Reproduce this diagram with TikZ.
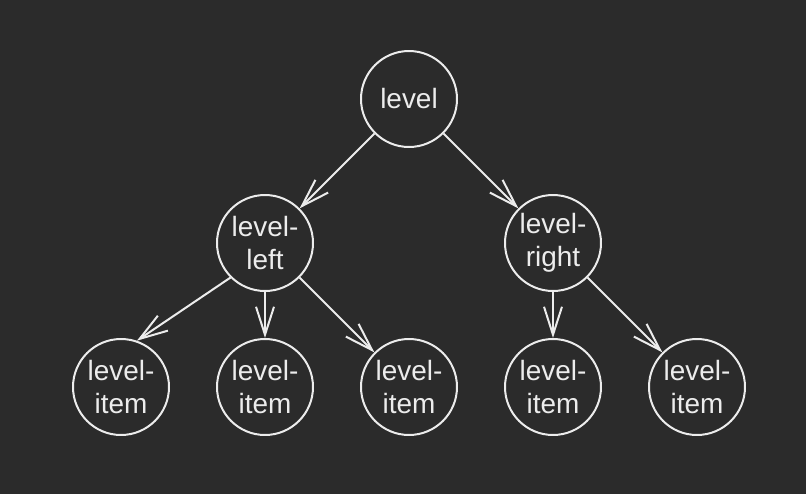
\documentclass[tikz,border=0pt]{standalone}
\usepackage{fontspec}
\setmainfont{Liberation Sans}
\usepackage{tikz}
\usetikzlibrary{shapes.geometric, arrows.meta, calc}
\definecolor{bg}{HTML}{2B2B2B}
\definecolor{fg}{HTML}{ECECEC}
\tikzstyle{lvl} = [circle, draw=fg, line width=0.04cm, minimum size=1.92cm,
inner sep=0pt, text=fg, align=center, font=\fontsize{15.9pt}{18.8pt}\selectfont]
\tikzstyle{arrow} = [line width=0.04cm, draw=fg, ->]
\tikzset{>={Straight Barb[length=0.56cm, width=0.36cm]}}

\begin{document}
\begin{tikzpicture}[x=0.02cm, y=-0.02cm]
            \fill[bg] (0,0) rectangle (806,494);
            \useasboundingbox (0,0) rectangle (806,494);
            % tree
            \node[lvl] (level) at (409,99) {level};
            \node[lvl] (lleft) at (265,243) {level-\\left};
            \node[lvl] (lright) at (553,243) {level-\\right};
            \node[lvl] (item1) at (121,387) {level-\\item};
            \node[lvl] (item2) at (265,387) {level-\\item};
            \node[lvl] (item3) at (409,387) {level-\\item};
            \node[lvl] (item4) at (553,387) {level-\\item};
            \node[lvl] (item5) at (697,387) {level-\\item};
            % edges
            \draw [arrow] (level) -- (lleft);
            \draw [arrow] (level) -- (lright);
            \draw [arrow] (lleft.-135) -- (item1.71);
            \draw [arrow] (lleft) -- (item2);
            \draw [arrow] (lleft) -- (item3);
            \draw [arrow] (lright) -- (item4);
            \draw [arrow] (lright) -- (item5);
        \end{tikzpicture}
\end{document}
